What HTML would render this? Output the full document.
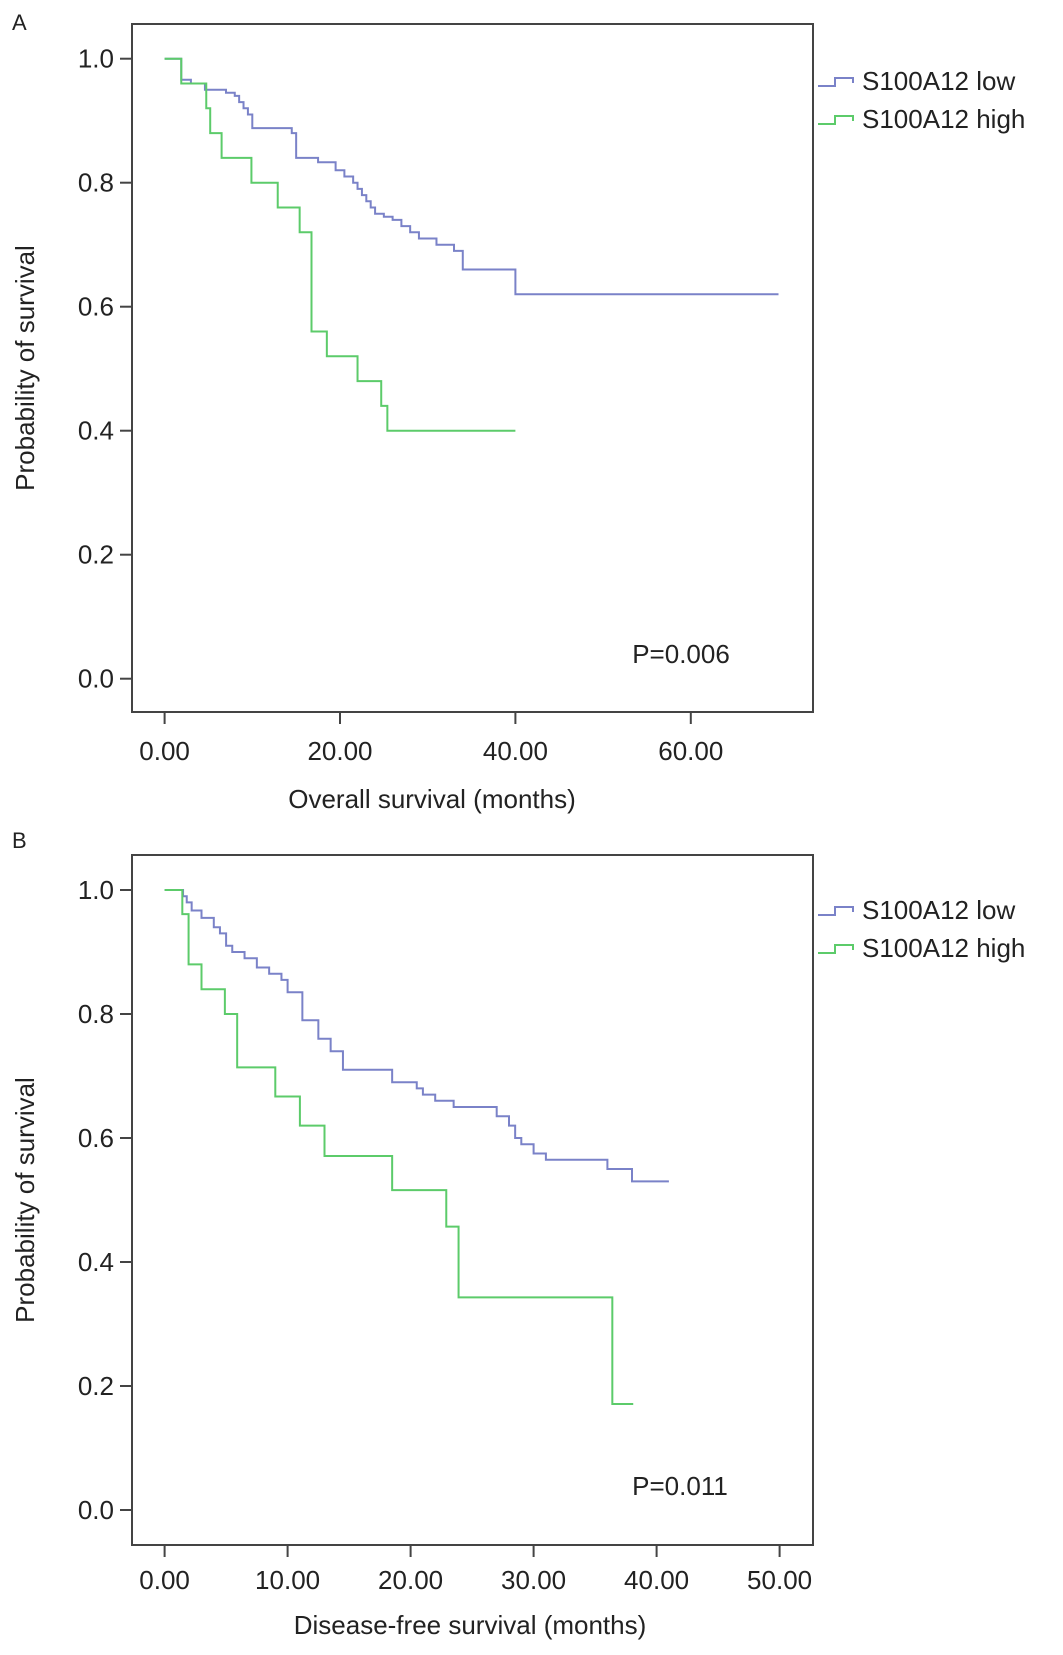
<!DOCTYPE html>
<html><head><meta charset="utf-8"><style>
html,body{margin:0;padding:0;background:#fff}
svg text{font-family:"Liberation Sans",sans-serif;fill:#222}
</style></head><body>
<svg id="fig" width="1063" height="1650" viewBox="0 0 1063 1650"></svg>
<script>
// Panel A data (overall survival)
const aLowT=[0,1.9,3,4.6,7,8,8.5,9,9.5,10,14.5,15,17.5,19.5,20.5,21.5,22,22.5,23,23.5,24,25,26,27,28,29,31,33,34,40];
const aLowS=[1,.966,.96,.95,.945,.94,.93,.92,.91,.888,.88,.84,.833,.82,.81,.80,.79,.78,.77,.76,.75,.745,.74,.73,.72,.71,.70,.69,.66,.62];
const aLowEnd=70;
const aHighT=[0,1.9,4.75,5.2,6.5,9.9,12.9,15.4,16.75,18.5,22,24.7,25.4];
const aHighS=[1,.96,.92,.88,.84,.80,.76,.72,.56,.52,.48,.44,.40];
const aHighEnd=40;
const aXTicks=[0,20,40,60];
// Panel B data (disease-free survival)
const bLowT=[0,1.5,1.8,2.2,3,4,4.5,5,5.5,6.5,7.5,8.5,9.5,10,11.2,12.5,13.5,14.5,18.5,20.5,21,22,23.5,27,28,28.5,29,30,31,36,38];
const bLowS=[1,.99,.98,.967,.955,.94,.93,.91,.90,.89,.875,.865,.855,.835,.79,.76,.74,.71,.69,.68,.67,.66,.65,.635,.62,.60,.59,.575,.565,.55,.53];
const bLowEnd=41;
const bHighT=[0,1.44,1.95,3,4.9,5.9,9,11,13,18.5,22.9,23.9,36.4];
const bHighS=[1,.961,.88,.84,.80,.714,.667,.62,.571,.516,.457,.343,.171];
const bHighEnd=38.1;
const bXTicks=[0,10,20,30,40,50];
const yTicks=[0,0.2,0.4,0.6,0.8,1.0];

const NS='http://www.w3.org/2000/svg';
const svg=document.getElementById('fig');
function mk(tag,attrs,parent){const e=document.createElementNS(NS,tag);for(const k in attrs)e.setAttribute(k,attrs[k]);(parent||svg).appendChild(e);return e;}
const BLUE='#7a82c8',GREEN='#5ccb6a';

function panel(p){
  const g=mk('g',{});
  
  
  const xs=v=>p.x0+v*p.xk, ys=v=>p.y1+(1-v)*620;
  const lab=mk('text',{x:p.labX,y:p.labY,'font-size':22},g);lab.textContent=p.id.toUpperCase();
  
  
  const box=mk('rect',{x:132,y:p.top,width:681,height:p.bottom-p.top,fill:'none',stroke:'#444','stroke-width':2},g);
  
  
  yTicks.forEach(t=>{
    const y=ys(t);
    mk('line',{x1:120,x2:132,y1:y,y2:y,stroke:'#444','stroke-width':2},g);
    const tx=mk('text',{x:114,y:y+9,'font-size':26,'text-anchor':'end'},g);tx.textContent=t.toFixed(1);
    
    
  });
  p.xt.forEach(t=>{
    const x=xs(t);
    mk('line',{x1:x,x2:x,y1:p.bottom,y2:p.bottom+12,stroke:'#444','stroke-width':2},g);
    const tx=mk('text',{x:x,y:p.tickY,'font-size':26,'text-anchor':'middle'},g);tx.textContent=t.toFixed(2);
    
    
  });
  const xt=mk('text',{x:p.titleX,y:p.titleY,'font-size':26,'text-anchor':'middle'},g);xt.textContent=p.xtitle;
  
  
  const cy=(p.top+p.bottom)/2;
  const yt=mk('text',{x:0,y:0,'font-size':26,'text-anchor':'middle',transform:`translate(34,${cy}) rotate(-90)`},g);yt.textContent='Probability of survival';
  
  
  function curve(T,S,end,col,name){
    let d=`M${xs(T[0])},${ys(S[0])}`;
    for(let i=1;i<T.length;i++){d+=` H${xs(T[i])} V${ys(S[i])}`;}
    d+=` H${xs(end)}`;
    const pa=mk('path',{d:d,fill:'none',stroke:col,'stroke-width':2},g);
    
    
  }
  curve(p.lowT,p.lowS,p.lowEnd,BLUE,'curve-low');
  curve(p.highT,p.highS,p.highEnd,GREEN,'curve-high');
  [[BLUE,'S100A12 low',p.legY],[GREEN,'S100A12 high',p.legY+38]].forEach(([c,t,y],i)=>{
    const lg=mk('g',{},g);
    
    
    mk('path',{d:`M818,${y-2} H835 V${y-10} H853 V${y-5}`,fill:'none',stroke:c,'stroke-width':2},lg);
    const tt=mk('text',{x:862,y:y+2,'font-size':26},lg);tt.textContent=t;
  });
  const pv=mk('text',{x:p.pX,y:p.pY,'font-size':26,'text-anchor':'middle'},g);pv.textContent=p.pval;
  
  
}
panel({id:'a',labX:12,labY:30,top:24,bottom:712,y1:58.7,x0:164.6,xk:8.77,xt:aXTicks,tickY:760,titleX:432,titleY:808,
  xtitle:'Overall survival (months)',lowT:aLowT,lowS:aLowS,lowEnd:aLowEnd,highT:aHighT,highS:aHighS,highEnd:aHighEnd,
  legY:88,pX:681,pY:663,pval:'P=0.006'});
panel({id:'b',labX:12,labY:848,top:855,bottom:1545,y1:890,x0:164.6,xk:12.30,xt:bXTicks,tickY:1589,titleX:470,titleY:1634,
  xtitle:'Disease-free survival (months)',lowT:bLowT,lowS:bLowS,lowEnd:bLowEnd,highT:bHighT,highS:bHighS,highEnd:bHighEnd,
  legY:917,pX:680,pY:1495,pval:'P=0.011'});
</script>
</body></html>
